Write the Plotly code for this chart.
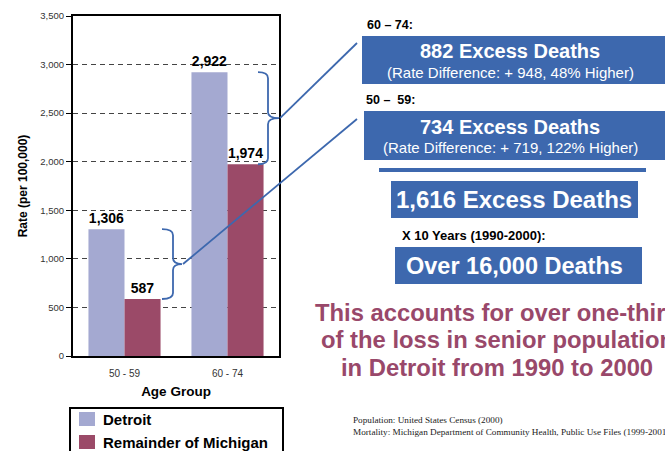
import plotly.graph_objects as go

# ---------------- data ----------------
categories = ["50 - 59", "60 - 74"]
detroit = [1306, 2922]
remainder = [587, 1974]
series_names = ["Detroit", "Remainder of Michigan"]
y_ticks = [0, 500, 1000, 1500, 2000, 2500, 3000, 3500]

group_labels = ["60 – 74:", "50 –  59:"]
excess_titles = ["882 Excess Deaths", "734 Excess Deaths"]
excess_subs = ["(Rate Difference: + 948, 48% Higher)",
               "(Rate Difference: + 719, 122% Higher)"]
total_label = "1,616 Excess Deaths"
decade_label = "X 10 Years (1990-2000):"
decade_total = "Over 16,000 Deaths"
summary_lines = ["This accounts for over one-third",
                 "of the loss in senior population",
                 "in Detroit from 1990 to 2000"]
sources = ["Population: United States Census (2000)",
           "Mortality: Michigan Department of Community Health, Public Use Files (1999-2001)"]

# ---------------- style ----------------
W, H = 665, 451
L, R, T, B = 73, 279, 16, 356        # plot area in pixels
YMAX = 3500
DET = "#a4a9d1"
REM = "#9b4a68"
BLUE = "#3d68ae"
MAROON = "#99486a"
NARROW = "Liberation Sans Narrow, Arial Narrow, Liberation Sans, Arial"
SANS = "Liberation Sans, Arial, Helvetica"
SERIF = "Liberation Serif, Times New Roman, serif"


def fx(x):
    return (x - L) / (R - L)


def fy(y):
    return (B - y) / (B - T)


def vy(v):
    return v / YMAX


colors = [DET, REM]
fig = go.Figure()
for name, vals, col in zip(series_names, [detroit, remainder], colors):
    fig.add_trace(go.Bar(
        x=categories, y=vals, name=name, marker=dict(color=col, line=dict(width=0)),
        texttemplate="%{y:,}", textposition="outside", cliponaxis=False, showlegend=False,
        textfont=dict(family=NARROW, size=14, color="black", weight="bold"),
    ))

shapes = []
annotations = []

# braces + connector lines
px_per_unit = (B - T) / YMAX
r = 6 / px_per_unit
brace_specs = [  # (top value, bottom value, hook x, vertical x, tip x, box target)
    (detroit[1], remainder[1], 258, 268, 279, (357, 43)),
    (detroit[0], remainder[0], 162, 173, 182, (357, 119)),
]
for top, bot, x0, xm, xt, target in brace_specs:
    mid = (top + bot) / 2
    X0, XM, XT = fx(x0), fx(xm), fx(xt)
    path = (f"M {X0},{top} Q {XM},{top} {XM},{top - r} "
            f"L {XM},{mid + r} Q {XM},{mid} {XT},{mid} "
            f"Q {XM},{mid} {XM},{mid - r} "
            f"L {XM},{bot + r} Q {XM},{bot} {X0},{bot}")
    shapes.append(dict(type="path", path=path, xref="paper", yref="y",
                       line=dict(color=BLUE, width=1.8)))
    shapes.append(dict(type="line", xref="paper", yref="paper",
                       x0=fx(xt + 1), y0=vy(mid), x1=fx(target[0]), y1=fy(target[1]),
                       line=dict(color=BLUE, width=1.8)))

# blue boxes
for (x0, x1, y0, y1) in [(362, 700, 36, 84), (364, 700, 111, 160),
                         (379, 646, 168, 172), (391, 638, 181, 218), (395, 642, 247, 284)]:
    shapes.append(dict(type="rect", xref="paper", yref="paper",
                       x0=fx(x0), x1=fx(x1), y0=fy(y0), y1=fy(y1),
                       fillcolor=BLUE, line=dict(width=0), layer="above"))


def txt(text, x, y, size, color="black", family=SANS, bold=False, xanchor="center"):
    annotations.append(dict(text=text, x=fx(x), y=fy(y), xref="paper", yref="paper",
                            showarrow=False, xanchor=xanchor, yanchor="middle",
                            font=dict(family=family, size=size, color=color,
                                      weight="bold" if bold else "normal")))


txt(group_labels[0], 365, 25, 12.5, family=NARROW, bold=True, xanchor="left")
txt(excess_titles[0], 510, 51, 20, "white", bold=True)
txt(excess_subs[0], 510, 72, 15, "white")
txt(group_labels[1], 364, 100, 12.5, family=NARROW, bold=True, xanchor="left")
txt(excess_titles[1], 510, 127, 20, "white", bold=True)
txt(excess_subs[1], 510, 147, 15, "white")
txt(total_label, 514, 199, 24, "white", bold=True)
txt(decade_label, 400, 236, 13, family=NARROW, bold=True, xanchor="left")
txt(decade_total, 514, 266, 23.5, "white", bold=True)
for i, line in enumerate(summary_lines):
    txt(line, 497, 312 + i * 27.5, 23.8, MAROON, bold=True)
for i, line in enumerate(sources):
    txt(line, 351, 420 + i * 12, 9.2, "#222", family=SERIF, xanchor="left")

# legend (drawn box with swatches)
shapes.append(dict(type="rect", xref="paper", yref="paper",
                   x0=fx(70), x1=fx(283), y0=fy(408), y1=fy(462),
                   fillcolor="white", line=dict(color="black", width=2)))
for i, (name, col) in enumerate(zip(series_names, colors)):
    yc = 419 + i * 23
    shapes.append(dict(type="rect", xref="paper", yref="paper",
                       x0=fx(79), x1=fx(95), y0=fy(yc - 7), y1=fy(yc + 7),
                       fillcolor=col, line=dict(width=0)))
    txt(name, 101, yc, 15, "black", bold=True, xanchor="left")

fig.update_layout(
    width=W, height=H,
    margin=dict(l=L, r=W - R, t=T, b=H - B, autoexpand=False),
    plot_bgcolor="white", paper_bgcolor="white",
    barmode="group", bargap=0.3, bargroupgap=0,
    showlegend=False,
    shapes=shapes, annotations=annotations,
    xaxis=dict(showline=True, linecolor="black", linewidth=2, mirror=True,
               ticks="", ticklabelstandoff=7,
               tickfont=dict(family=NARROW, size=10, color="#333"),
               title=dict(text="Age Group", standoff=9,
                          font=dict(family=SANS, size=13.5, color="black", weight="bold"))),
    yaxis=dict(range=[0, YMAX], tickvals=y_ticks, tickformat=",",
               showline=True, linecolor="black", linewidth=2, mirror=True,
               ticks="outside", ticklen=5, tickcolor="black",
               showgrid=True, gridcolor="#444", gridwidth=1, griddash="5px,4px",
               zeroline=False,
               tickfont=dict(family=NARROW, size=9.5, color="#333"),
               title=dict(text="Rate (per 100,000)", standoff=10,
                          font=dict(family=SANS, size=12, color="black", weight="bold"))),
)

fig.write_html("out.html", config={"displayModeBar": False},
               post_script="document.body.style.margin='0';document.body.style.overflow='hidden';")
